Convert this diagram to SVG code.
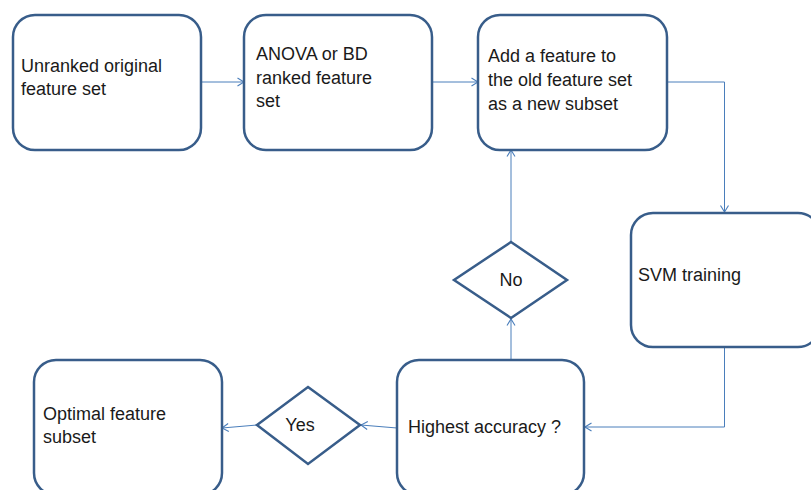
<svg xmlns="http://www.w3.org/2000/svg" width="811" height="490" viewBox="0 0 811 490">
  <style>
    .box { fill: #ffffff; stroke: #385d8a; stroke-width: 2.5; }
    .dia { fill: #ffffff; stroke: #385d8a; stroke-width: 2.5; stroke-linejoin: miter; }
    .lbl { font-family: "Liberation Sans", Arial, sans-serif; font-size: 18px; fill: #1a1a1a; }
    .conn { fill: none; stroke: #4a7ebb; stroke-width: 1; marker-end: url(#arrow); }
  </style>
  <defs>
    <marker id="arrow" viewBox="0 0 10 10" refX="9.5" refY="5" markerWidth="10" markerHeight="10" markerUnits="userSpaceOnUse" orient="auto">
      <path d="M3,1 L9.5,5 L3,9" fill="none" stroke="#4a7ebb" stroke-width="1.1"/>
    </marker>
  </defs>
  <rect width="811" height="490" fill="#ffffff"/>

  <!-- connectors -->
  <g id="connectors">
    <path class="conn" d="M201,82 H244"/>
    <path class="conn" d="M432,82 H478"/>
    <path class="conn" d="M667,82 H724.5 V212"/>
    <path class="conn" d="M724.5,347 V427 H585"/>
    <path class="conn" d="M511,360 V319"/>
    <path class="conn" d="M511,242 V150"/>
    <path class="conn" d="M397,428 L361,425"/>
    <path class="conn" d="M257,425 L222,428"/>
  </g>

  <!-- nodes -->
  <g id="unranked">
    <rect class="box" x="13" y="15" width="188" height="135" rx="22"/>
    <text class="lbl" x="21" y="72">Unranked original</text>
    <text class="lbl" x="21" y="95">feature set</text>
  </g>
  <g id="ranked">
    <rect class="box" x="244" y="15" width="188" height="135" rx="22"/>
    <text class="lbl" x="256" y="60">ANOVA or BD</text>
    <text class="lbl" x="256" y="83.5">ranked feature</text>
    <text class="lbl" x="256" y="107">set</text>
  </g>
  <g id="add-feature">
    <rect class="box" x="478" y="15" width="189" height="135" rx="22"/>
    <text class="lbl" x="488" y="61.5">Add a feature to</text>
    <text class="lbl" x="488" y="86">the old feature set</text>
    <text class="lbl" x="488" y="110">as a new subset</text>
  </g>
  <g id="svm">
    <rect class="box" x="631" y="213" width="189" height="134" rx="22"/>
    <text class="lbl" x="638" y="281">SVM training</text>
  </g>
  <g id="highest">
    <rect class="box" x="397" y="360" width="187" height="135" rx="22"/>
    <text class="lbl" x="408" y="433">Highest accuracy ?</text>
  </g>
  <g id="no">
    <polygon class="dia" points="511,242 567,280 511,318 454,280"/>
    <text class="lbl" x="511" y="286" text-anchor="middle">No</text>
  </g>
  <g id="yes">
    <polygon class="dia" points="308,387 360,425 308,464 257,425"/>
    <text class="lbl" x="300" y="431" text-anchor="middle">Yes</text>
  </g>
  <g id="optimal">
    <rect class="box" x="34" y="360" width="188" height="135" rx="22"/>
    <text class="lbl" x="43" y="420">Optimal feature</text>
    <text class="lbl" x="43" y="443">subset</text>
  </g>
</svg>
